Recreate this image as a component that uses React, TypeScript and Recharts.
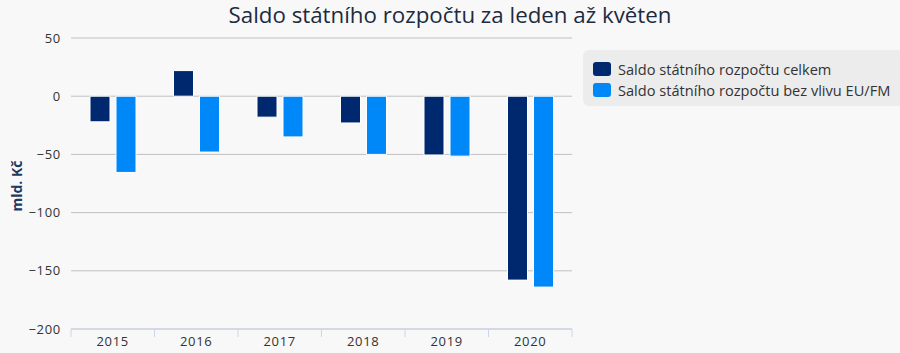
import React from 'react';
import { BarChart, Bar, XAxis, YAxis, CartesianGrid } from 'recharts';

const years = ['2015', '2016', '2017', '2018', '2019', '2020'];
const saldoCelkem = [-22, 22, -18, -23, -50.5, -158];
const saldoBezEU = [-65.5, -48, -35, -50, -51.5, -164];
const yTicks = [50, 0, -50, -100, -150, -200];
const seriesNames = ['Saldo státního rozpočtu celkem', 'Saldo státního rozpočtu bez vlivu EU/FM'];
const colors = ['#00286e', '#0088f8'];

const data = years.map((y, i) => ({ year: y, celkem: saldoCelkem[i], bez: saldoBezEU[i] }));

const FONT = '"Open Sans", "Noto Sans", sans-serif';

const XTick = (props: any) => {
  const { x, y, payload, index, visibleTicksCount } = props;
  const off = payload.offset || 0;
  return (
    <g>
      <line x1={x - off} x2={x - off} y1={y} y2={y + 8} stroke="#ccd6eb" strokeWidth={1} />
      {index === visibleTicksCount - 1 && (
        <line x1={x + off} x2={x + off} y1={y} y2={y + 8} stroke="#ccd6eb" strokeWidth={1} />
      )}
      <text x={x} y={y + 17} textAnchor="middle" fill="#333333" fontSize={13} letterSpacing={0.7} fontFamily={FONT}>
        {payload.value}
      </text>
    </g>
  );
};

const fmt = (v: number) => (v < 0 ? '\u2212' + Math.abs(v) : String(v));

const LegendBox = () => (
  <div
    style={{
      position: 'absolute',
      left: 583,
      top: 50,
      width: 317,
      height: 56,
      background: '#ececec',
      borderRadius: '6px 0 0 6px',
      padding: '8px 0 0 10px',
      fontFamily: FONT,
      fontSize: 14.6,
      color: '#333333',
      boxSizing: 'border-box',
      whiteSpace: 'nowrap',
    }}
  >
    {seriesNames.map((n, i) => (
      <div key={n} style={{ display: 'flex', alignItems: 'center', height: 21 }}>
        <span
          style={{
            display: 'inline-block',
            width: 18,
            height: 14,
            borderRadius: 3,
            background: colors[i],
            marginRight: 7,
          }}
        />
        <span>{n}</span>
      </div>
    ))}
  </div>
);

export default function App() {
  return (
    <div style={{ position: 'fixed', left: 0, top: 0, width: 900, height: 353, background: '#f8f8f8', overflow: 'hidden' }}>
      <BarChart
        width={900}
        height={353}
        data={data}
        margin={{ top: 38, right: 328, bottom: 0, left: 0 }}
        barSize={20}
        barGap={6}
        style={{ position: 'absolute', left: 0, top: 0 }}
      >
        <CartesianGrid vertical={false} stroke="#c0c0c0" strokeWidth={1} />
        <XAxis
          dataKey="year"
          height={24}
          axisLine={{ stroke: '#ccd6eb' }}
          tickLine={false}
          tickSize={0}
          tickMargin={0}
          tick={<XTick />}
          interval={0}
        />
        <YAxis
          width={71}
          domain={[-200, 50]}
          ticks={yTicks}
          axisLine={false}
          tickLine={false}
          tickMargin={4}
          tickFormatter={fmt}
          tick={{ fill: '#333333', fontSize: 13, fontFamily: FONT, letterSpacing: 0.7 }}
          interval={0}
        />
        <Bar dataKey="celkem" name={seriesNames[0]} fill={colors[0]} stroke="#ffffff" strokeWidth={1} isAnimationActive={false} />
        <Bar dataKey="bez" name={seriesNames[1]} fill={colors[1]} stroke="#ffffff" strokeWidth={1} isAnimationActive={false} />
      </BarChart>
      <div
        style={{
          position: 'absolute',
          top: 1,
          left: 0,
          width: 900,
          textAlign: 'center',
          fontFamily: FONT,
          fontSize: 22.3,
          color: '#1c2b3f',
          lineHeight: '27px',
        }}
      >
        Saldo státního rozpočtu za leden až květen
      </div>
      <div
        style={{
          position: 'absolute',
          left: 16,
          top: 186,
          transform: 'translate(-50%, -50%) rotate(-90deg)',
          fontFamily: FONT,
          fontSize: 14,
          fontWeight: 'bold',
          color: '#1f3a60',
          whiteSpace: 'nowrap',
        }}
      >
        mld. Kč
      </div>
      <LegendBox />
    </div>
  );
}
